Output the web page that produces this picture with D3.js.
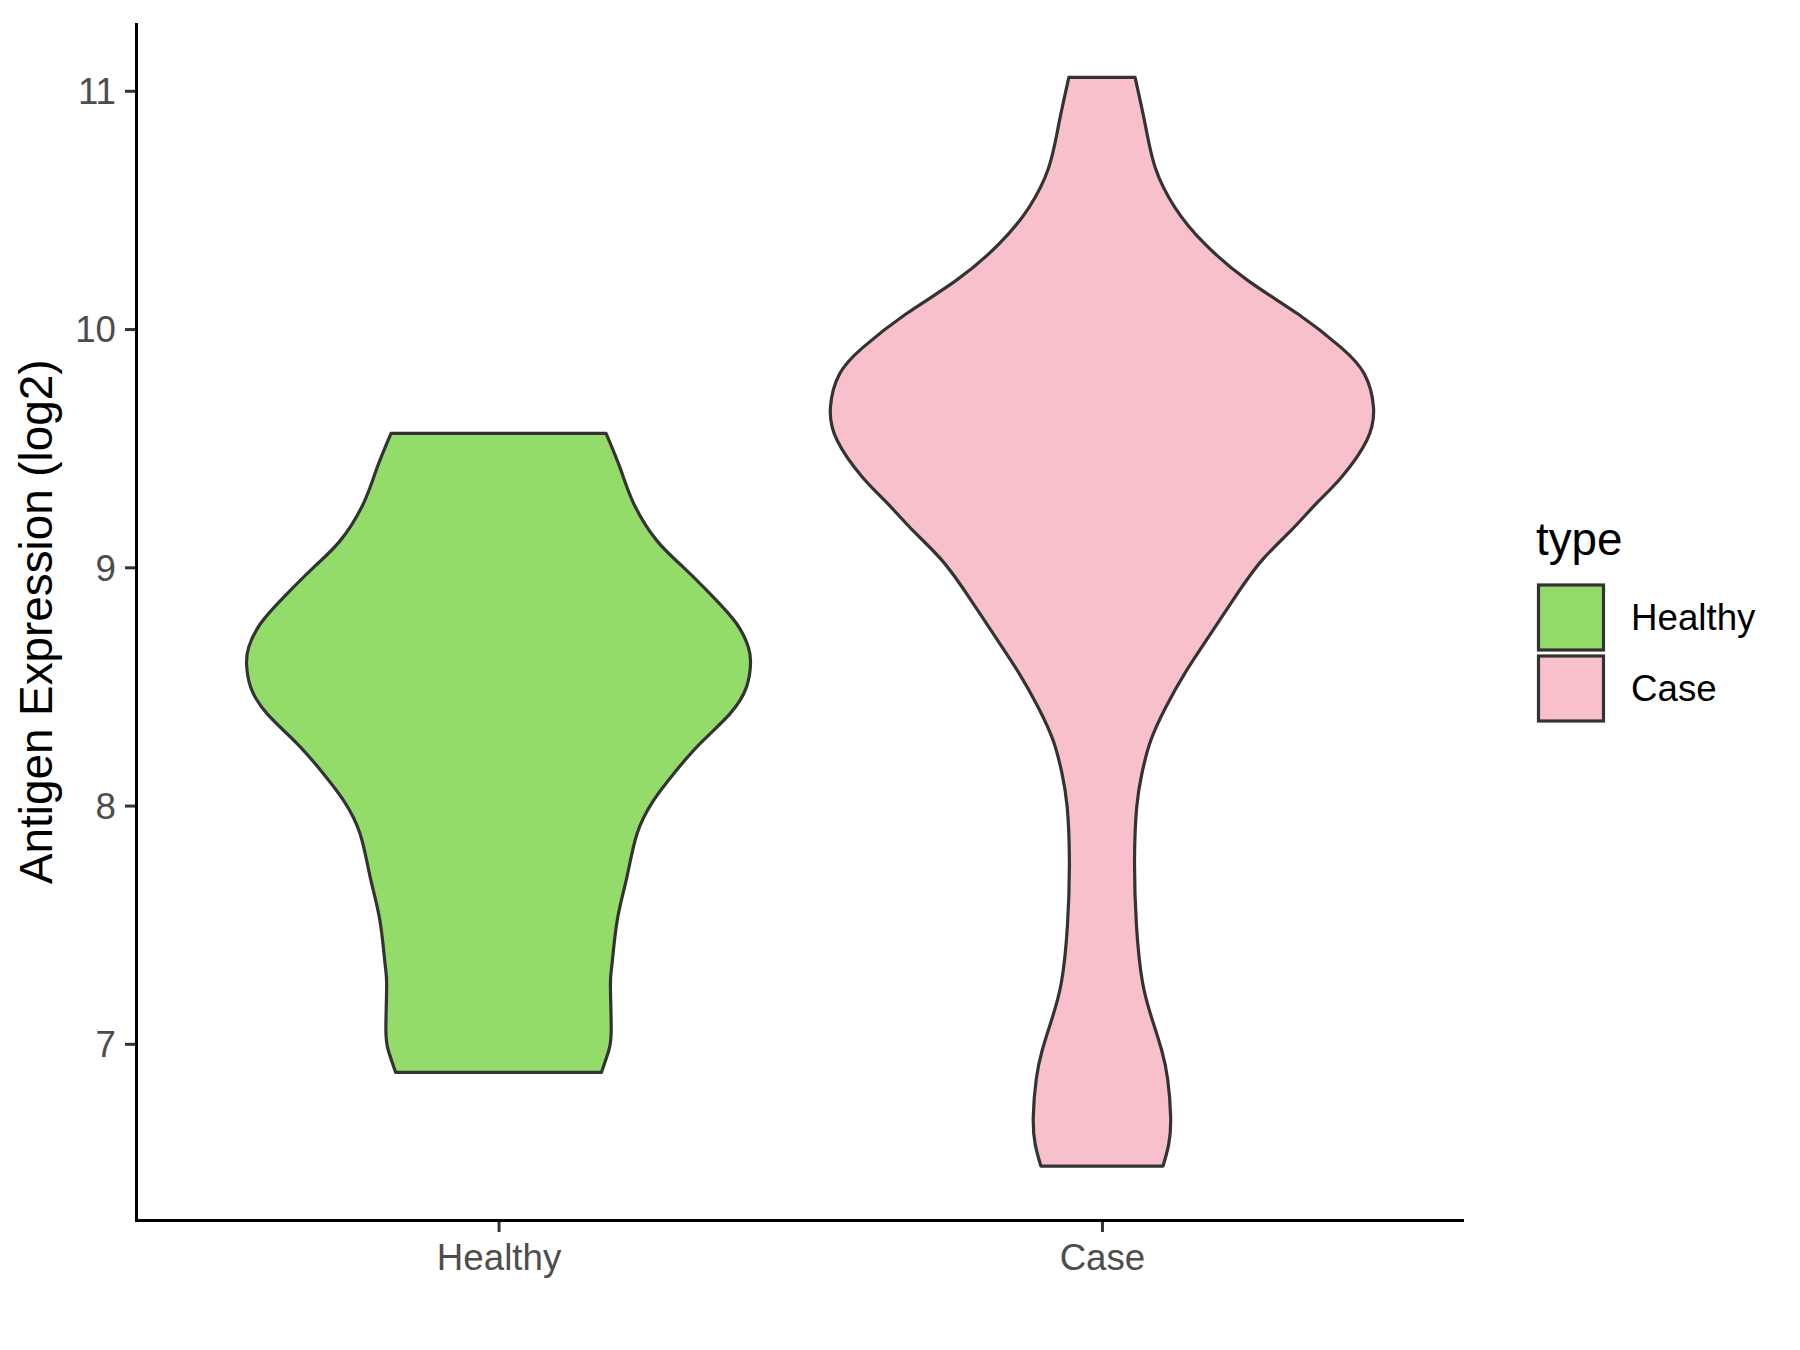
<!DOCTYPE html>
<html><head><meta charset="utf-8">
<script src="https://cdn.jsdelivr.net/npm/d3@7"></script>
<style>body{margin:0;background:#fff}</style>
</head><body>
<svg id="chart" width="1800" height="1350" xmlns="http://www.w3.org/2000/svg"></svg>
<script>
// ---- data ----
const categories = ["Healthy", "Case"];
const fillColors = ["#93DC6A", "#F8C0CB"];
// y value (log2 expression) and scaled density (1 = widest violin)
const healthyValues  = [9.562, 9.413, 9.267, 9.112, 9.000, 8.875, 8.763, 8.665, 8.595, 8.497, 8.385, 8.260, 8.134, 8.022, 7.882, 7.701, 7.518, 7.336, 7.245, 7.063, 6.972, 6.880];
const healthyDensity = [0.396, 0.449, 0.498, 0.583, 0.681, 0.791, 0.877, 0.920, 0.928, 0.913, 0.852, 0.742, 0.645, 0.571, 0.510, 0.473, 0.437, 0.418, 0.412, 0.415, 0.406, 0.379];
const caseValues  = [11.056, 10.860, 10.678, 10.510, 10.357, 10.203, 10.063, 9.923, 9.812, 9.672, 9.532, 9.378, 9.266, 9.154, 9.029, 8.875, 8.707, 8.553, 8.413, 8.274, 8.134, 7.994, 7.770, 7.498, 7.254, 7.095, 6.973, 6.852, 6.692, 6.579, 6.487];
const caseDensity = [0.122, 0.159, 0.196, 0.269, 0.379, 0.538, 0.722, 0.880, 0.966, 1.000, 0.975, 0.882, 0.788, 0.696, 0.589, 0.490, 0.392, 0.304, 0.235, 0.180, 0.147, 0.128, 0.120, 0.127, 0.150, 0.187, 0.220, 0.242, 0.253, 0.246, 0.225];
const yTicks = [7, 8, 9, 10, 11];
const yTitle = "Antigen Expression (log2)";
const legendTitle = "type";

// ---- layout ----
const panel = {left: 136.5, right: 1464, top: 23, bottom: 1220.5};
const svg = d3.select("#chart");
const font = "Arial, 'Liberation Sans', Helvetica, sans-serif";

const series = [
  {name: categories[0], fill: fillColors[0], pts: healthyValues.map((v, i) => ({v, d: healthyDensity[i]}))},
  {name: categories[1], fill: fillColors[1], pts: caseValues.map((v, i) => ({v, d: caseDensity[i]}))}
];

const allV = healthyValues.concat(caseValues);
const vMin = d3.min(allV), vMax = d3.max(allV), span = vMax - vMin;
const y = d3.scaleLinear().domain([vMin - 0.05 * span, vMax + 0.05 * span]).range([panel.bottom, panel.top]);
const x = d3.scalePoint().domain(categories).range([panel.left, panel.right]).padding(0.6);
const halfW = d3.scaleLinear().domain([0, 1]).range([0, 0.45 * x.step()]);

// ---- violins ----
series.forEach(s => {
  const cx = x(s.name);
  const area = d3.area()
    .y(p => y(p.v))
    .x0(p => cx - halfW(p.d))
    .x1(p => cx + halfW(p.d))
    .curve(d3.curveNatural);
  svg.append("path")
    .attr("d", area(s.pts))
    .attr("fill", s.fill)
    .attr("stroke", "#333333")
    .attr("stroke-width", 3.2)
    .attr("stroke-linejoin", "round");
});

// ---- axes ----
const yAxis = svg.append("g").attr("transform", `translate(${panel.left},0)`)
  .call(d3.axisLeft(y).tickValues(yTicks).tickSize(11.5).tickPadding(9).tickFormat(d3.format("d")));
const xAxis = svg.append("g").attr("transform", `translate(0,${panel.bottom})`)
  .call(d3.axisBottom(x).tickSize(11.5).tickPadding(9));
[yAxis, xAxis].forEach(g => {
  g.select(".domain").remove();
  g.selectAll(".tick line").attr("stroke", "#333333").attr("stroke-width", 3);
  g.selectAll(".tick text").attr("fill", "#4D4D4D").style("font-family", font).style("font-size", "36.7px");
});
xAxis.selectAll(".tick text").attr("dy", "0.78em");
yAxis.selectAll(".tick text").attr("dy", "0.35em");

svg.append("line").attr("x1", panel.left).attr("x2", panel.left).attr("y1", panel.top).attr("y2", panel.bottom + 1.5)
  .attr("stroke", "#000").attr("stroke-width", 3);
svg.append("line").attr("x1", panel.left - 1.5).attr("x2", panel.right).attr("y1", panel.bottom).attr("y2", panel.bottom)
  .attr("stroke", "#000").attr("stroke-width", 3);

// y title
svg.append("text")
  .attr("transform", `translate(52,${(panel.top + panel.bottom) / 2}) rotate(-90)`)
  .attr("text-anchor", "middle")
  .style("font-family", font).style("font-size", "45.8px").attr("fill", "#000")
  .text(yTitle);

// ---- legend ----
const lg = svg.append("g");
lg.append("text").attr("x", 1536).attr("y", 555)
  .style("font-family", font).style("font-size", "45.8px").attr("fill", "#000").text(legendTitle);
series.forEach((s, i) => {
  const top = 585 + i * 71;
  lg.append("rect").attr("x", 1538.5).attr("y", top).attr("width", 65).attr("height", 65)
    .attr("fill", s.fill).attr("stroke", "#333333").attr("stroke-width", 3.2);
  lg.append("text").attr("x", 1631).attr("y", top + 32.5).attr("dy", "0.35em")
    .style("font-family", font).style("font-size", "36.7px").attr("fill", "#000").text(s.name);
});
</script>
</body></html>
